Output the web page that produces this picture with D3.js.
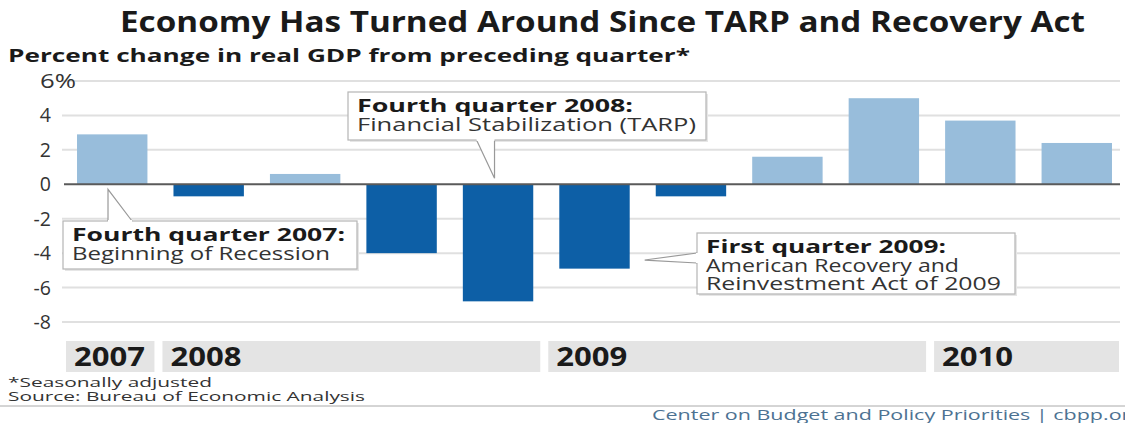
<!DOCTYPE html>
<meta charset="utf-8">
<style>
body { margin: 0; background: #fff; }
text { font-family: "Open Sans", "Noto Sans", sans-serif; }
</style>
<body>
<script src="https://cdn.jsdelivr.net/npm/d3@7/dist/d3.min.js"></script>
<script>

var quarters = ["2007Q4", "2008Q1", "2008Q2", "2008Q3", "2008Q4", "2009Q1", "2009Q2", "2009Q3", "2009Q4", "2010Q1", "2010Q2"];
var gdpChange = [2.9, -0.7, 0.6, -4.0, -6.8, -4.9, -0.7, 1.6, 5.0, 3.7, 2.4];
var yTicks = [6, 4, 2, 0, -2, -4, -6, -8];
var years = ["2007", "2008", "2009", "2010"];
var yearStart = ["2007Q4", "2008Q1", "2009Q1", "2010Q1"];
var yearEnd = ["2007Q4", "2008Q4", "2009Q4", "2010Q2"];

var width = 1125,
    height = 423;

var svg = d3.select("body").append("svg")
    .attr("width", width)
    .attr("height", height);

var x = d3.scaleBand()
    .domain(quarters)
    .range([64, 1125])
    .paddingInner(0.27)
    .paddingOuter(0.135);

var y = d3.scaleLinear()
    .domain([-8, 6])
    .range([322, 81]);

var step = x.step(),
    outer = step * 0.135;

// the source picture is stretched sideways, so texts get a fixed length
function stretched(sel, len) {
  sel.attr("textLength", len).attr("lengthAdjust", "spacingAndGlyphs");
  return sel;
}

// title
stretched(svg.append("text")
  .attr("x", 120).attr("y", 32)
  .attr("font-size", 29).attr("font-weight", "bold").attr("fill", "#1a1a1a")
  .text("Economy Has Turned Around Since TARP and Recovery Act"), 965);

stretched(svg.append("text")
  .attr("x", 8).attr("y", 62)
  .attr("font-size", 18).attr("font-weight", "bold").attr("fill", "#1a1a1a")
  .text("Percent change in real GDP from preceding quarter*"), 682);

// gridlines
svg.append("g").selectAll("line")
  .data(yTicks.filter(function(d) { return d != 0; }))
  .enter().append("line")
  .attr("x1", 62).attr("x2", 1120)
  .attr("y1", function(d) { return y(d); })
  .attr("y2", function(d) { return y(d); })
  .attr("stroke", "#e0e0e0").attr("stroke-width", 2);

// y labels
var yl = svg.append("g").selectAll("text")
  .data(yTicks)
  .enter().append("text")
  .attr("x", 51)
  .attr("y", function(d) { return y(d) + 7; })
  .attr("text-anchor", "end")
  .attr("font-size", 19.5).attr("fill", "#333")
  .text(function(d) { return d < 0 ? "-" + Math.abs(d) : d; });
yl.filter(function(d) { return d == 6; })
  .attr("text-anchor", "start").attr("x", 40)
  .attr("textLength", 36).attr("lengthAdjust", "spacingAndGlyphs")
  .text("6%");

// bars
svg.append("g").selectAll("rect")
  .data(gdpChange)
  .enter().append("rect")
  .attr("x", function(d, i) { return x(quarters[i]); })
  .attr("width", x.bandwidth())
  .attr("y", function(d) { return y(Math.max(0, d)); })
  .attr("height", function(d) { return Math.abs(y(d) - y(0)); })
  .attr("fill", function(d) { return d >= 0 ? "#98bddb" : "#0d5fa6"; });

// zero line
svg.append("line")
  .attr("x1", 64).attr("x2", 1120)
  .attr("y1", y(0)).attr("y2", y(0))
  .attr("stroke", "#5a5a5a").attr("stroke-width", 2);

// year bands
var yg = svg.append("g").selectAll("g")
  .data(years)
  .enter().append("g");
yg.append("rect")
  .attr("x", function(d, i) { return x(yearStart[i]) - outer + 2; })
  .attr("width", function(d, i) { return x(yearEnd[i]) - x(yearStart[i]) + step - 8; })
  .attr("y", 341).attr("height", 31)
  .attr("fill", "#e4e4e4");
yg.append("text")
  .attr("x", function(d, i) { return x(yearStart[i]) - outer + 10; })
  .attr("y", 366)
  .attr("font-size", 26).attr("font-weight", "bold").attr("fill", "#1a1a1a")
  .attr("textLength", 71).attr("lengthAdjust", "spacingAndGlyphs")
  .text(function(d) { return d; });

// annotation callouts
function callout(bx, by, bw, bh, lines, lens, pointer) {
  var g = svg.append("g");
  g.append("rect")
    .attr("x", bx + 2).attr("y", by + 2).attr("width", bw).attr("height", bh)
    .attr("fill", "#e6e6e6");
  g.append("rect")
    .attr("x", bx).attr("y", by).attr("width", bw).attr("height", bh)
    .attr("fill", "#fff").attr("stroke", "#b5b5b5").attr("stroke-width", 1.2);
  g.append("path")
    .attr("d", d3.line()(pointer))
    .attr("fill", "#fff").attr("stroke", "#999").attr("stroke-width", 1.2);
  // cover the box edge under the pointer base
  g.append("line")
    .attr("x1", pointer[0][0]).attr("y1", pointer[0][1])
    .attr("x2", pointer[2][0]).attr("y2", pointer[2][1])
    .attr("stroke", "#fff").attr("stroke-width", 2);
  lines.forEach(function(t, i) {
    stretched(g.append("text")
      .attr("x", bx + 9).attr("y", by + 20 + i * 18.5)
      .attr("font-size", 18)
      .attr("font-weight", i == 0 ? "bold" : "normal")
      .attr("fill", i == 0 ? "#1a1a1a" : "#333")
      .text(t), lens[i]);
  });
}

var c1 = x("2007Q4") + x.bandwidth() * 0.44;
callout(63, 221, 294, 48, ["Fourth quarter 2007:", "Beginning of Recession"], [273, 258],
  [[c1, 221], [c1, y(0) + 5], [c1 + 24, 221]]);

var c2 = x("2008Q4") + x.bandwidth() * 0.45;
callout(348, 92, 358, 48, ["Fourth quarter 2008:", "Financial Stabilization (TARP)"], [276, 339],
  [[c2 - 18, 140], [c2, y(0) - 6], [c2, 140]]);

var c3 = x("2009Q1") + x.bandwidth() + 15;
callout(697, 233, 318, 61, ["First quarter 2009:", "American Recovery and", "Reinvestment Act of 2009"], [240, 253, 295],
  [[697, 253], [c3, y(-4.4)], [697, 263]]);

// footnotes
stretched(svg.append("text")
  .attr("x", 8).attr("y", 387).attr("font-size", 13.5).attr("fill", "#333")
  .text("*Seasonally adjusted"), 204);
stretched(svg.append("text")
  .attr("x", 8).attr("y", 401).attr("font-size", 13.5).attr("fill", "#333")
  .text("Source: Bureau of Economic Analysis"), 357);
svg.append("line")
  .attr("x1", 0).attr("x2", width).attr("y1", 406).attr("y2", 406)
  .attr("stroke", "#aaa").attr("stroke-width", 1);
stretched(svg.append("text")
  .attr("x", 652).attr("y", 420).attr("font-size", 15).attr("fill", "#4d7292")
  .text("Center on Budget and Policy Priorities | cbpp.org"), 490);

</script>
</body>
